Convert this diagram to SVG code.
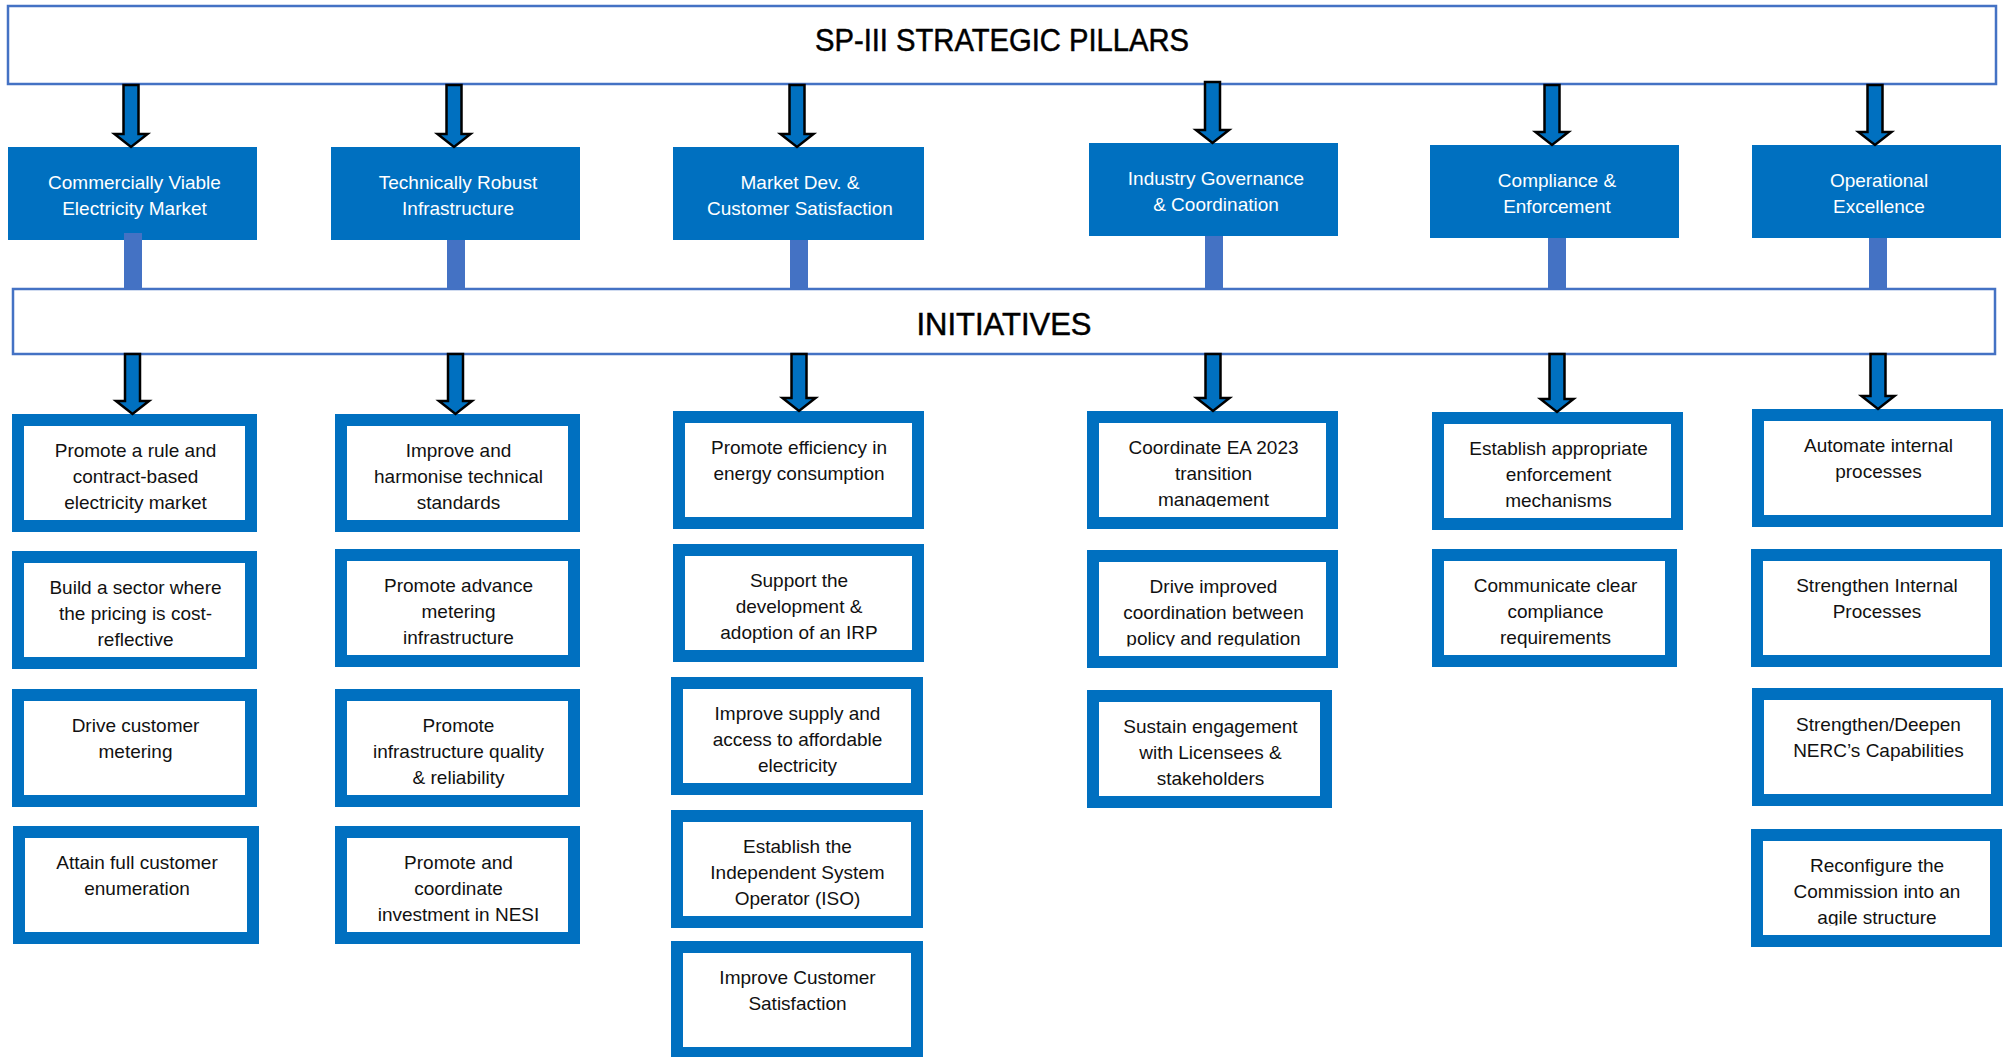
<svg xmlns="http://www.w3.org/2000/svg" width="2004" height="1057" viewBox="0 0 2004 1057">
  <defs>
    <style>
      .hdr{fill:#fff;stroke:#4472C4;stroke-width:2.5}
      .hdr-t{font-family:"Liberation Sans",Arial,sans-serif;font-size:32px;fill:#000;text-anchor:middle;stroke:#000;stroke-width:0.5}
      .pillar rect{fill:#0070C0}
      .pillar text{font-family:"Liberation Sans",Arial,sans-serif;font-size:19px;fill:#fff;text-anchor:middle}
      .init .bg{fill:#fff}
      .init .frame{fill:none;stroke:#0070C0;stroke-width:12}
      .init text{font-family:"Liberation Sans",Arial,sans-serif;font-size:19px;fill:#111;text-anchor:middle}
      .arrow{fill:#0070C0;stroke:#000;stroke-width:2.5;stroke-linejoin:miter}
      .bar{fill:#4472C4}
    </style>
    <!-- text frames that cut off descenders of the last line -->
    <clipPath id="clip-gov-1"><rect x="1087" y="411" width="251" height="96"/></clipPath>
    <clipPath id="clip-gov-2"><rect x="1087" y="550" width="251" height="96.5"/></clipPath>
    <clipPath id="clip-ops-4"><rect x="1751" y="829" width="251" height="96.5"/></clipPath>
  </defs>

  <rect width="2004" height="1057" fill="#fff"/>

  <!-- header bands -->
  <g id="pillars-header">
    <rect class="hdr" x="8" y="6" width="1988" height="78"/>
    <text class="hdr-t" x="1002" y="51" textLength="374" lengthAdjust="spacingAndGlyphs">SP-III STRATEGIC PILLARS</text>
  </g>
  <g id="initiatives-header">
    <rect class="hdr" x="13" y="289" width="1982" height="65"/>
    <text class="hdr-t" x="1004" y="335" textLength="175" lengthAdjust="spacingAndGlyphs">INITIATIVES</text>
  </g>

  <!-- strategic pillars -->
  <g id="pillar-market" class="pillar">
    <rect x="8" y="147" width="249" height="93"/>
    <text x="134.5" y="189">Commercially Viable</text>
    <text x="134.5" y="215">Electricity Market</text>
  </g>
  <g id="pillar-infrastructure" class="pillar">
    <rect x="331" y="147" width="249" height="93"/>
    <text x="458" y="189">Technically Robust</text>
    <text x="458" y="215">Infrastructure</text>
  </g>
  <g id="pillar-customer" class="pillar">
    <rect x="673" y="147" width="251" height="93"/>
    <text x="800" y="189">Market Dev. &amp;</text>
    <text x="800" y="215">Customer Satisfaction</text>
  </g>
  <g id="pillar-governance" class="pillar">
    <rect x="1089" y="143" width="249" height="93"/>
    <text x="1216" y="185">Industry Governance</text>
    <text x="1216" y="211">&amp; Coordination</text>
  </g>
  <g id="pillar-compliance" class="pillar">
    <rect x="1430" y="145" width="249" height="93"/>
    <text x="1557" y="187">Compliance &amp;</text>
    <text x="1557" y="213">Enforcement</text>
  </g>
  <g id="pillar-operations" class="pillar">
    <rect x="1752" y="145" width="249" height="93"/>
    <text x="1879" y="187">Operational</text>
    <text x="1879" y="213">Excellence</text>
  </g>

  <!-- initiatives: Commercially Viable Electricity Market -->
  <g id="mkt-1" class="init">
    <rect class="bg" x="12" y="414" width="245" height="118"/>
    <text x="135.5" y="457">Promote a rule and<tspan x="135.5" dy="26">contract-based</tspan><tspan x="135.5" dy="26">electricity market</tspan></text>
    <rect class="frame" x="18" y="420" width="233" height="106"/>
  </g>
  <g id="mkt-2" class="init">
    <rect class="bg" x="12" y="551" width="245" height="118"/>
    <text x="135.5" y="594">Build a sector where<tspan x="135.5" dy="26">the pricing is cost-</tspan><tspan x="135.5" dy="26">reflective</tspan></text>
    <rect class="frame" x="18" y="557" width="233" height="106"/>
  </g>
  <g id="mkt-3" class="init">
    <rect class="bg" x="12" y="689" width="245" height="118"/>
    <text x="135.5" y="732">Drive customer<tspan x="135.5" dy="26">metering</tspan></text>
    <rect class="frame" x="18" y="695" width="233" height="106"/>
  </g>
  <g id="mkt-4" class="init">
    <rect class="bg" x="13" y="826" width="246" height="118"/>
    <text x="137" y="869">Attain full customer<tspan x="137" dy="26">enumeration</tspan></text>
    <rect class="frame" x="19" y="832" width="234" height="106"/>
  </g>

  <!-- initiatives: Technically Robust Infrastructure -->
  <g id="infra-1" class="init">
    <rect class="bg" x="335" y="414" width="245" height="118"/>
    <text x="458.5" y="457">Improve and<tspan x="458.5" dy="26">harmonise technical</tspan><tspan x="458.5" dy="26">standards</tspan></text>
    <rect class="frame" x="341" y="420" width="233" height="106"/>
  </g>
  <g id="infra-2" class="init">
    <rect class="bg" x="335" y="549" width="245" height="118"/>
    <text x="458.5" y="592">Promote advance<tspan x="458.5" dy="26">metering</tspan><tspan x="458.5" dy="26">infrastructure</tspan></text>
    <rect class="frame" x="341" y="555" width="233" height="106"/>
  </g>
  <g id="infra-3" class="init">
    <rect class="bg" x="335" y="689" width="245" height="118"/>
    <text x="458.5" y="732">Promote<tspan x="458.5" dy="26">infrastructure quality</tspan><tspan x="458.5" dy="26">&amp; reliability</tspan></text>
    <rect class="frame" x="341" y="695" width="233" height="106"/>
  </g>
  <g id="infra-4" class="init">
    <rect class="bg" x="335" y="826" width="245" height="118"/>
    <text x="458.5" y="869">Promote and<tspan x="458.5" dy="26">coordinate</tspan><tspan x="458.5" dy="26">investment in NESI</tspan></text>
    <rect class="frame" x="341" y="832" width="233" height="106"/>
  </g>

  <!-- initiatives: Market Dev. & Customer Satisfaction -->
  <g id="cust-1" class="init">
    <rect class="bg" x="673" y="411" width="251" height="118"/>
    <text x="799" y="454">Promote efficiency in<tspan x="799" dy="26">energy consumption</tspan></text>
    <rect class="frame" x="679" y="417" width="239" height="106"/>
  </g>
  <g id="cust-2" class="init">
    <rect class="bg" x="673" y="544" width="251" height="118"/>
    <text x="799" y="587">Support the<tspan x="799" dy="26">development &amp;</tspan><tspan x="799" dy="26">adoption of an IRP</tspan></text>
    <rect class="frame" x="679" y="550" width="239" height="106"/>
  </g>
  <g id="cust-3" class="init">
    <rect class="bg" x="671" y="677" width="252" height="118"/>
    <text x="797.5" y="720">Improve supply and<tspan x="797.5" dy="26">access to affordable</tspan><tspan x="797.5" dy="26">electricity</tspan></text>
    <rect class="frame" x="677" y="683" width="240" height="106"/>
  </g>
  <g id="cust-4" class="init">
    <rect class="bg" x="671" y="810" width="252" height="118"/>
    <text x="797.5" y="853">Establish the<tspan x="797.5" dy="26">Independent System</tspan><tspan x="797.5" dy="26">Operator (ISO)</tspan></text>
    <rect class="frame" x="677" y="816" width="240" height="106"/>
  </g>
  <g id="cust-5" class="init">
    <rect class="bg" x="671" y="941" width="252" height="118"/>
    <text x="797.5" y="984">Improve Customer<tspan x="797.5" dy="26">Satisfaction</tspan></text>
    <rect class="frame" x="677" y="947" width="240" height="106"/>
  </g>

  <!-- initiatives: Industry Governance & Coordination -->
  <g id="gov-1" class="init">
    <rect class="bg" x="1087" y="411" width="251" height="118"/>
    <text x="1213.5" y="454" clip-path="url(#clip-gov-1)">Coordinate EA 2023<tspan x="1213.5" dy="26">transition</tspan><tspan x="1213.5" dy="26">management</tspan></text>
    <rect class="frame" x="1093" y="417" width="239" height="106"/>
  </g>
  <g id="gov-2" class="init">
    <rect class="bg" x="1087" y="550" width="251" height="118"/>
    <text x="1213.5" y="593" clip-path="url(#clip-gov-2)">Drive improved<tspan x="1213.5" dy="26">coordination between</tspan><tspan x="1213.5" dy="26">policy and regulation</tspan></text>
    <rect class="frame" x="1093" y="556" width="239" height="106"/>
  </g>
  <g id="gov-3" class="init">
    <rect class="bg" x="1087" y="690" width="245" height="118"/>
    <text x="1210.5" y="733">Sustain engagement<tspan x="1210.5" dy="26">with Licensees &amp;</tspan><tspan x="1210.5" dy="26">stakeholders</tspan></text>
    <rect class="frame" x="1093" y="696" width="233" height="106"/>
  </g>

  <!-- initiatives: Compliance & Enforcement -->
  <g id="comp-1" class="init">
    <rect class="bg" x="1432" y="412" width="251" height="118"/>
    <text x="1558.5" y="455">Establish appropriate<tspan x="1558.5" dy="26">enforcement</tspan><tspan x="1558.5" dy="26">mechanisms</tspan></text>
    <rect class="frame" x="1438" y="418" width="239" height="106"/>
  </g>
  <g id="comp-2" class="init">
    <rect class="bg" x="1432" y="549" width="245" height="118"/>
    <text x="1555.5" y="592">Communicate clear<tspan x="1555.5" dy="26">compliance</tspan><tspan x="1555.5" dy="26">requirements</tspan></text>
    <rect class="frame" x="1438" y="555" width="233" height="106"/>
  </g>

  <!-- initiatives: Operational Excellence -->
  <g id="ops-1" class="init">
    <rect class="bg" x="1752" y="409" width="251" height="118"/>
    <text x="1878.5" y="452">Automate internal<tspan x="1878.5" dy="26">processes</tspan></text>
    <rect class="frame" x="1758" y="415" width="239" height="106"/>
  </g>
  <g id="ops-2" class="init">
    <rect class="bg" x="1751" y="549" width="251" height="118"/>
    <text x="1877" y="592">Strengthen Internal<tspan x="1877" dy="26">Processes</tspan></text>
    <rect class="frame" x="1757" y="555" width="239" height="106"/>
  </g>
  <g id="ops-3" class="init">
    <rect class="bg" x="1752" y="688" width="251" height="118"/>
    <text x="1878.5" y="731">Strengthen/Deepen<tspan x="1878.5" dy="26">NERC’s Capabilities</tspan></text>
    <rect class="frame" x="1758" y="694" width="239" height="106"/>
  </g>
  <g id="ops-4" class="init">
    <rect class="bg" x="1751" y="829" width="251" height="118"/>
    <text x="1877" y="872" clip-path="url(#clip-ops-4)">Reconfigure the<tspan x="1877" dy="26">Commission into an</tspan><tspan x="1877" dy="26">agile structure</tspan></text>
    <rect class="frame" x="1757" y="835" width="239" height="106"/>
  </g>

  <!-- connectors -->
  <g id="connectors">
    <!-- header to pillar arrows -->
    <path class="arrow" d="M123.5,85 H138.5 V134 H147.5 L131,147 L114.5,134 H123.5 Z"/>
    <path class="arrow" d="M446.5,85 H461.5 V134 H470.5 L454,147 L437.5,134 H446.5 Z"/>
    <path class="arrow" d="M789.5,85 H804.5 V134 H813.5 L797,147 L780.5,134 H789.5 Z"/>
    <path class="arrow" d="M1205,82 H1220 V130 H1229 L1212.5,143 L1196,130 H1205 Z"/>
    <path class="arrow" d="M1544.5,85 H1559.5 V132 H1568.5 L1552,145 L1535.5,132 H1544.5 Z"/>
    <path class="arrow" d="M1867.5,85 H1882.5 V132 H1891.5 L1875,145 L1858.5,132 H1867.5 Z"/>
    <!-- pillar to initiatives band -->
    <rect class="bar" x="124" y="233" width="18" height="57"/>
    <rect class="bar" x="447" y="240" width="18" height="50"/>
    <rect class="bar" x="790" y="240" width="18" height="50"/>
    <rect class="bar" x="1205" y="236" width="18" height="54"/>
    <rect class="bar" x="1548" y="238" width="18" height="52"/>
    <rect class="bar" x="1869" y="238" width="18" height="52"/>
    <!-- initiatives band to first initiative of each pillar -->
    <path class="arrow" d="M125,354 H140 V401 H149 L132.5,414 L116,401 H125 Z"/>
    <path class="arrow" d="M448,354 H463 V401 H472 L455.5,414 L439,401 H448 Z"/>
    <path class="arrow" d="M791.5,354 H806.5 V398 H815.5 L799,411 L782.5,398 H791.5 Z"/>
    <path class="arrow" d="M1205.5,354 H1220.5 V398 H1229.5 L1213,411 L1196.5,398 H1205.5 Z"/>
    <path class="arrow" d="M1549.5,354 H1564.5 V399 H1573.5 L1557,412 L1540.5,399 H1549.5 Z"/>
    <path class="arrow" d="M1870.5,354 H1885.5 V396 H1894.5 L1878,409 L1861.5,396 H1870.5 Z"/>
  </g>
</svg>
